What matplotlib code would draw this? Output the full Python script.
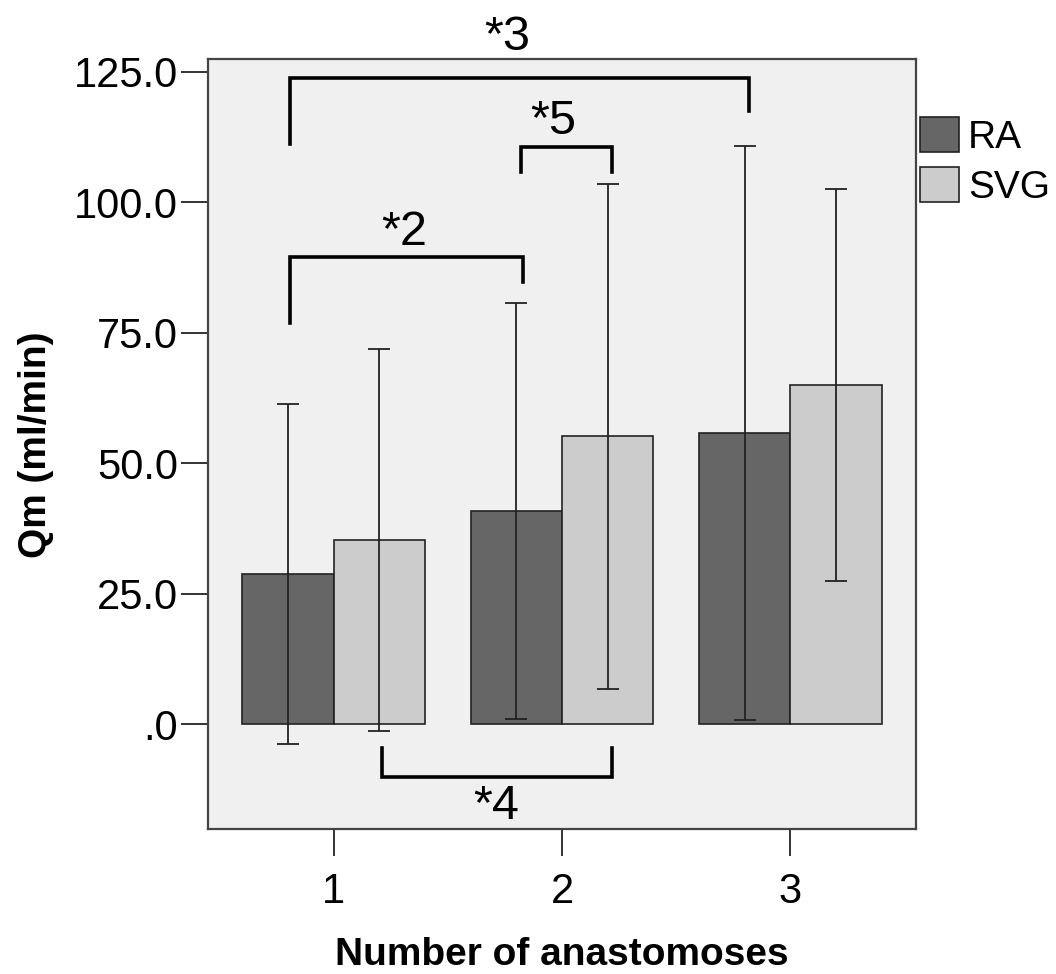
import matplotlib
matplotlib.use('Agg')
import numpy as np
import matplotlib.pyplot as plt

plt.rcParams['font.family'] = ['Liberation Sans', 'DejaVu Sans']

groups = [1, 2, 3]
ra_mean = [28.8, 40.9, 55.8]
ra_lo = [-3.8, 1.0, 0.9]
ra_hi = [61.4, 80.8, 110.8]
svg_mean = [35.4, 55.2, 65.0]
svg_lo = [-1.2, 6.7, 27.4]
svg_hi = [71.9, 103.6, 102.5]

# significance brackets: (x_left, x_right, y_bar, y_end_left, y_end_right, label, label_x, label_y)
brackets = [
    (0.81, 2.82, 123.9, 111.1, 117.5, '*3', 1.76, 131.5),
    (1.82, 2.22, 110.6, 105.9, 105.9, '*5', 1.96, 115.5),
    (0.81, 1.83, 89.5, 76.8, 84.8, '*2', 1.31, 94.3),
    (1.21, 2.22, -10.0, -4.6, -4.6, '*4', 1.71, -15.8),
]

fig = plt.figure(figsize=(10.56, 9.74), dpi=100)
ax = fig.add_axes([0.197, 0.1486, 0.6704, 0.7905])
ax.set_facecolor('#f0f0f0')

x = np.array(groups, dtype=float)
w = 0.4
ax.bar(x - w / 2, ra_mean, w, color='#666666', edgecolor='#222222', linewidth=1.2, label='RA', zorder=2)
ax.bar(x + w / 2, svg_mean, w, color='#cccccc', edgecolor='#222222', linewidth=1.2, label='SVG', zorder=2)

ra_err = [np.array(ra_mean) - np.array(ra_lo), np.array(ra_hi) - np.array(ra_mean)]
svg_err = [np.array(svg_mean) - np.array(svg_lo), np.array(svg_hi) - np.array(svg_mean)]
ax.errorbar(x - w / 2, ra_mean, yerr=ra_err, fmt='none', ecolor='#222222', elinewidth=1.3,
            capsize=8, capthick=1.3, zorder=3)
ax.errorbar(x + w / 2, svg_mean, yerr=svg_err, fmt='none', ecolor='#222222', elinewidth=1.3,
            capsize=8, capthick=1.3, zorder=3)

for xl, xr, yb, yl, yr, lab, lx, ly in brackets:
    ax.plot([xl, xl, xr, xr], [yl, yb, yb, yr], color='black', linewidth=2.6,
            solid_joinstyle='miter', clip_on=False, zorder=4)
    ax.text(lx, ly, lab, fontsize=35, ha='center', va='center', clip_on=False, zorder=5)

ax.set_xlim(0.45, 3.55)
ax.set_ylim(-20.1, 127.4)
ax.set_xticks(groups)
ax.set_xticklabels([str(g) for g in groups])
ax.set_yticks([0, 25, 50, 75, 100, 125])
ax.set_yticklabels(['.0', '25.0', '50.0', '75.0', '100.0', '125.0'])
ax.tick_params(axis='both', labelsize=30, length=19.5, width=1.4, color='#333333')
ax.tick_params(axis='y', pad=2)
ax.tick_params(axis='x', pad=11)
for s in ax.spines.values():
    s.set_color('#444444')
    s.set_linewidth(1.6)

ax.set_xlabel('Number of anastomoses', fontsize=28, fontweight='bold', labelpad=18)
ax.set_ylabel('Qm (ml/min)', fontsize=28, fontweight='bold', labelpad=14)

ax.legend(loc='upper left', bbox_to_anchor=(1.006, 0.925), frameon=False, fontsize=28,
          handlelength=1.0, handleheight=1.0, handletextpad=0.23, labelspacing=0.3,
          borderpad=0, borderaxespad=0)

fig.savefig('out.png', dpi=100)
